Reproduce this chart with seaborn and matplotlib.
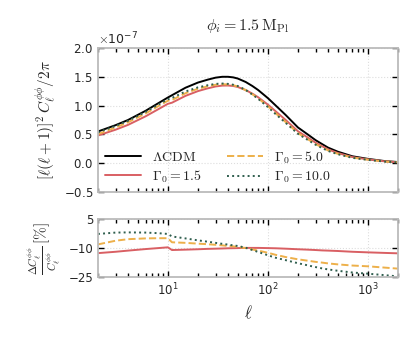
import numpy as np
import pandas as pd
import matplotlib
matplotlib.use("Agg")
import matplotlib.pyplot as plt
import seaborn as sns
from matplotlib.ticker import ScalarFormatter, LogLocator, FixedLocator

# --- data ---
ell = [2, 3, 4, 6, 8, 10, 11, 15, 20, 25, 30, 35, 40, 45, 50, 60, 70, 80,
       100, 120, 150, 200, 250, 300, 350, 400, 500, 700, 1000, 1500, 2000]
# LCDM lensing potential spectrum, units of 1e-7
lcdm = [0.55, 0.66, 0.75, 0.91, 1.04, 1.14, 1.18, 1.31, 1.40, 1.45, 1.485,
        1.50, 1.50, 1.49, 1.47, 1.41, 1.34, 1.27, 1.13, 1.00, 0.84, 0.62,
        0.50, 0.40, 0.33, 0.27, 0.20, 0.12, 0.075, 0.035, 0.02]
# percentage differences w.r.t. LCDM
diff_g15 = [-12.6, -11.9, -11.3, -10.5, -10.0, -9.6, -11.0, -10.8, -10.6,
            -10.4, -10.3, -10.2, -10.1, -10.05, -10.0, -9.9, -9.9, -9.9,
            -10.0, -10.1, -10.3, -10.6, -10.8, -11.0, -11.2, -11.3, -11.5,
            -11.9, -12.2, -12.5, -12.7]
diff_g50 = [-8.1, -6.2, -5.4, -5.0, -4.9, -4.9, -7.0, -7.3, -7.7, -8.0, -8.3,
            -8.6, -8.9, -9.1, -9.4, -10.0, -10.7, -11.3, -12.4, -13.5, -14.6,
            -15.8, -16.5, -17.1, -17.5, -17.9, -18.4, -19.0, -19.4, -20.1,
            -20.6]
diff_g100 = [-2.7, -2.0, -1.9, -2.0, -2.3, -2.7, -4.0, -5.0, -6.0, -6.7,
             -7.3, -7.8, -8.2, -8.6, -8.9, -9.8, -11.0, -12.0, -13.7, -15.0,
             -16.2, -17.8, -18.9, -19.8, -20.5, -21.0, -21.7, -22.6, -23.2,
             -24.0, -24.6]

labels = [r"$\Lambda\mathrm{CDM}$", r"$\Gamma_0=1.5$", r"$\Gamma_0=5.0$", r"$\Gamma_0=10.0$"]
colors = ["black", "#d95f63", "#edb04a", "#2f5e4e"]
styles = ["-", "-", "--", ":"]

sns.set_theme(style="ticks")
plt.rcParams["mathtext.fontset"] = "cm"
plt.rcParams["font.family"] = ["DejaVu Sans"]
plt.rcParams["xtick.direction"] = "in"
plt.rcParams["ytick.direction"] = "in"
plt.rcParams["xtick.top"] = True
plt.rcParams["ytick.right"] = True

lcdm_arr = np.array(lcdm)
diffs = [None, np.array(diff_g15), np.array(diff_g50), np.array(diff_g100)]
spectra = [lcdm_arr] + [lcdm_arr * (1 + d / 100) for d in diffs[1:]]

fig = plt.figure(figsize=(4.15, 3.38), dpi=100)
ax1 = fig.add_axes([0.236, 0.432, 0.723, 0.426])
ax2 = fig.add_axes([0.236, 0.180, 0.723, 0.172])

for spec, lab, c, ls in zip(spectra, labels, colors, styles):
    df = pd.DataFrame({"ell": ell, "val": spec * 1e-7})
    sns.lineplot(data=df, x="ell", y="val", ax=ax1, color=c, linestyle=ls,
                 linewidth=1.4, label=lab)

for d, lab, c, ls in zip(diffs[1:], labels[1:], colors[1:], styles[1:]):
    df = pd.DataFrame({"ell": ell, "pct": d})
    sns.lineplot(data=df, x="ell", y="pct", ax=ax2, color=c, linestyle=ls,
                 linewidth=1.4, legend=False)

for ax in (ax1, ax2):
    ax.set_xscale("log")
    ax.set_xlim(2, 2000)
    ax.grid(True, color="#dddddd", linestyle=":", linewidth=0.8)
    for sp in ax.spines.values():
        sp.set_color("#bbbbbb")
        sp.set_linewidth(1.3)
    ax.tick_params(which="major", length=4, width=1.0, color="black",
                   labelsize=8.5, top=True, right=True)
    ax.tick_params(which="minor", length=3, width=1.0, color="black",
                   top=True, right=True)
    ax.xaxis.set_minor_locator(LogLocator(base=10, subs=np.arange(2, 10)))

ax1.set_ylim(-0.5e-7, 2.0e-7)
ax1.yaxis.set_major_locator(FixedLocator(np.arange(-0.5, 2.01, 0.5) * 1e-7))
fmt = ScalarFormatter(useMathText=True)
fmt.set_powerlimits((0, 0))
ax1.yaxis.set_major_formatter(fmt)
ax1.yaxis.get_offset_text().set_fontsize(9)
ax1.tick_params(labelbottom=False)
ax1.set_xlabel("")
ax1.set_ylabel(r"$[\ell(\ell+1)]^2\,C_\ell^{\phi\phi}/2\pi$", fontsize=11)
ax1.set_title(r"$\phi_i = 1.5\,\mathrm{M_{Pl}}$", fontsize=11.5, pad=13)
ax1.legend(ncol=2, frameon=False, loc="lower left", fontsize=10,
           handlelength=2.6, columnspacing=1.8, borderaxespad=0.1,
           labelspacing=0.3)

ax2.set_ylim(-25, 5)
ax2.set_yticks([5, -10, -25])
ax2.set_ylabel(r"$\frac{\Delta C_\ell^{\phi\phi}}{C_\ell^{\phi\phi}}\,[\%]$", fontsize=11)
ax2.set_xlabel(r"$\ell$", fontsize=12)

fig.savefig("out.png", dpi=100)
